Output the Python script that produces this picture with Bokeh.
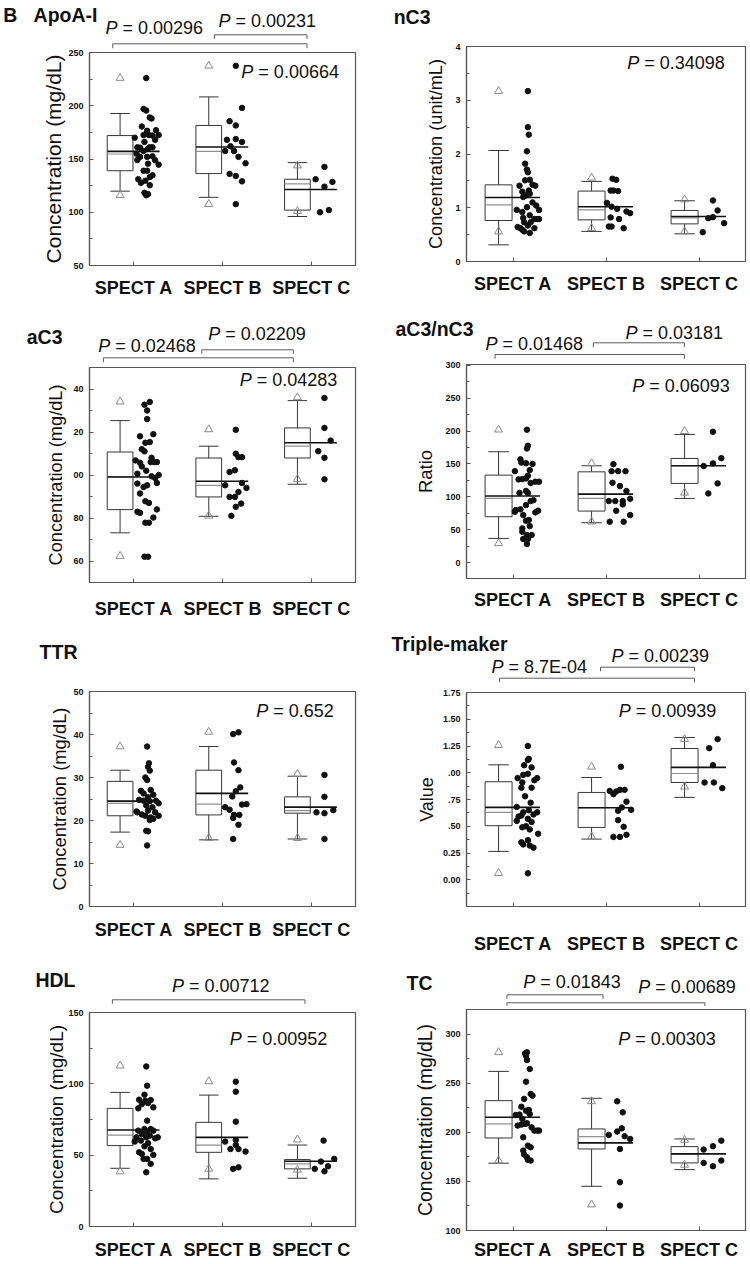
from bokeh.plotting import figure
from bokeh.layouts import column, row
from bokeh.models import Range1d, FixedTicker, Label
from bokeh.embed import file_html
from bokeh.resources import INLINE

FONT = "Liberation Sans"
GROUPS = ["SPECT A", "SPECT B", "SPECT C"]
CATS = [1, 2, 3]

# ---------------- ApoA-I ----------------
apoa_A = [226, 197, 195.5, 189, 188, 180.5, 177, 176.5, 172.5, 172.5, 172.5, 172, 170, 168, 166, 161, 160.6, 161, 161, 159.7,
          157.5, 155, 152, 152, 152.5, 149, 148.8, 145.6, 144.7, 139, 139, 134.7, 133, 131, 129.6, 127.6, 125.4, 118.2, 117, 116]
apoa_A_jit = [0.14, 0.11, 0.14, 0.18, 0.20, 0.09, 0.25, 0.15, 0.28, 0.17, 0.11, 0.21, 0.01, 0.24, 0.12, 0.04, 0.07, 0.18, 0.21, 0.16,
              0.11, 0.03, 0.07, 0.15, 0.21, 0.04, 0.24, 0.16, 0.28, 0.11, 0.15, 0.21, 0.18, 0.05, 0.13, 0.08, 0.18, 0.12, 0.16, 0.14]
apoa_B = [237.5, 198, 185.5, 181.5, 168, 168.7, 166, 162, 157.5, 157.5, 152, 146, 136, 134, 129, 107.6]
apoa_B_jit = [0.15, 0.22, 0.08, 0.15, 0.05, 0.15, 0.22, 0.09, 0.03, 0.13, 0.18, 0.26, 0.08, 0.15, 0.22, 0.15]
apoa_C = [131, 142.6, 124, 128.5, 100, 102]
apoa_C_jit = [0.05, 0.15, 0.15, 0.24, 0.10, 0.20]
apoa_stats = dict(q1=[139, 136.3, 102], q3=[172, 181.5, 131], med=[154.7, 157.2, 126.6], mean=[157.2, 161.2, 121.3],
                  wlo=[119.8, 114, 96], whi=[192.7, 208.3, 146.6], tlo=[116, 107.6, 101], thi=[226, 237.5, 143.8])

# ---------------- nC3 ----------------
nc3_A = [3.17, 2.50, 2.36, 2.05, 1.82, 1.71, 1.66, 1.52, 1.51, 1.41, 1.43, 1.41, 1.32, 1.30, 1.26, 1.23, 1.20, 1.10, 1.04, 1.01,
         0.96, 0.96, 0.92, 0.86, 0.81, 0.79, 0.79, 0.79, 0.73, 0.73, 0.67, 0.64, 0.62, 0.59, 0.62, 0.56, 0.53]
nc3_A_jit = [0.16, 0.16, 0.17, 0.15, 0.13, 0.15, 0.16, 0.18, 0.13, 0.07, 0.21, 0.24, 0.17, 0.10, 0.18, 0.14, 0.11, 0.21, 0.25, 0.15,
             0.04, 0.28, 0.10, 0.18, 0.11, 0.23, 0.26, 0.28, 0.12, 0.19, 0.16, 0.05, 0.08, 0.10, 0.23, 0.12, 0.18]
nc3_B = [1.54, 1.52, 1.32, 1.32, 1.31, 1.09, 1.02, 0.98, 0.93, 0.90, 0.82, 0.79, 0.65, 0.65, 0.62]
nc3_B_jit = [0.07, 0.11, 0.05, 0.08, 0.13, 0.01, 0.06, 0.12, 0.22, 0.26, 0.05, 0.14, 0.03, 0.06, 0.19]
nc3_C = [1.135, 0.95, 0.806, 0.825, 0.713, 0.546]
nc3_C_jit = [0.15, 0.20, 0.10, 0.15, 0.27, 0.04]
nc3_stats = dict(q1=[0.763, 0.775, 0.70], q3=[1.426, 1.31, 0.95], med=[1.054, 0.96, 0.81], mean=[1.19, 1.02, 0.837],
                 wlo=[0.31, 0.56, 0.515], whi=[2.065, 1.49, 1.13], tlo=[0.558, 0.62, 0.558], thi=[3.17, 1.557, 1.153])

# ---------------- aC3 ----------------
ac3_A = [134, 132.7, 130, 126, 118, 119, 115, 115.3, 112, 111, 108, 106.8, 105.7, 106, 106, 106, 104, 102, 100.6, 100,
         99.4, 98.6, 96.3, 96, 95.2, 94.4, 91.4, 87.8, 87, 84, 82.9, 82.4, 80.2, 77.8, 77.8, 62, 62]
ac3_A_jit = [0.18, 0.12, 0.15, 0.15, 0.07, 0.22, 0.13, 0.18, 0.09, 0.12, 0.20, 0.02, 0.07, 0.19, 0.23, 0.26, 0.09, 0.14, 0.04, 0.28,
             0.20, 0.24, 0.26, 0.04, 0.15, 0.11, 0.07, 0.13, 0.17, 0.26, 0.04, 0.07, 0.22, 0.13, 0.17, 0.12, 0.16]
ac3_B = [121, 109.9, 108.3, 108.3, 102.2, 101.4, 96.3, 95.2, 94, 92.1, 89.8, 89.8, 86.7, 85.2, 81]
ac3_B_jit = [0.15, 0.15, 0.18, 0.22, 0.14, 0.08, 0.22, 0.03, 0.27, 0.18, 0.08, 0.14, 0.21, 0.15, 0.10]
ac3_C = [135.8, 121.9, 116, 111.1, 108, 98]
ac3_C_jit = [0.15, 0.15, 0.22, 0.08, 0.15, 0.15]
ac3_stats = dict(q1=[83.9, 89.8, 107.9], q3=[110.7, 107.9, 121.9], med=[99.1, 95.2, 113.4], mean=[99.1, 97.1, 115],
                 wlo=[73.1, 80.8, 95.7], whi=[125.3, 113.4, 134.6], tlo=[62.3, 81, 98], thi=[134.1, 121.2, 136.1])

# ---------------- aC3/nC3 ----------------
ratio_A = [202, 177.6, 173.5, 157, 152, 151, 150, 139, 140.6, 126.5, 127, 132, 128, 123, 123, 121, 109, 106, 106, 95,
           93.6, 87.5, 80, 81, 79, 76.4, 77.4, 72.3, 63.7, 64.8, 52.1, 55.6, 47, 42, 42, 36, 36, 28.3]
ratio_A_jit = [0.15, 0.16, 0.15, 0.08, 0.09, 0.14, 0.21, 0.02, 0.18, 0.06, 0.10, 0.16, 0.14, 0.24, 0.28, 0.19, 0.14, 0.07, 0.16, 0.22,
               0.19, 0.14, 0.03, 0.08, 0.27, 0.24, 0.02, 0.11, 0.14, 0.17, 0.10, 0.18, 0.10, 0.15, 0.20, 0.11, 0.16, 0.15]
ratio_B = [149.7, 139, 139, 139, 121.4, 116.3, 108.8, 93.6, 93.6, 93.6, 97.1, 88.5, 78.9, 72.3, 62.2, 62.2]
ratio_B_jit = [0.08, 0.06, 0.13, 0.21, 0.07, 0.15, 0.22, 0.03, 0.10, 0.18, 0.26, 0.18, 0.11, 0.26, 0.04, 0.19]
ratio_C = [198.8, 158.8, 150.8, 146.7, 120.4, 105.2]
ratio_C_jit = [0.15, 0.24, 0.15, 0.05, 0.20, 0.10]
ratio_stats = dict(q1=[69.8, 78.4, 120.4], q3=[133, 138, 158.3], med=[97.6, 97.6, 147.2], mean=[101.2, 104.2, 147.2],
                   wlo=[36.9, 60.7, 97.6], whi=[168.5, 147.2, 194.8], tlo=[29.3, 62.2, 106.2], thi=[202, 150.8, 199.8])

# ---------------- TTR ----------------
ttr_A = [37.2, 33.3, 32.5, 31.6, 30, 29.4, 26.9, 27.1, 26.3, 26, 25.4, 24.8, 24.6, 24.5, 24.6, 24.0, 23.5, 23.1, 22.1, 21.9,
         22.3, 21.9, 21.4, 21.1, 21.1, 20.7, 20.4, 20.1, 17.6, 17.5, 14.2]
ttr_A_jit = [0.15, 0.17, 0.16, 0.18, 0.13, 0.15, 0.08, 0.19, 0.11, 0.22, 0.16, 0.06, 0.11, 0.18, 0.25, 0.28, 0.14, 0.21, 0.03, 0.04,
             0.16, 0.24, 0.09, 0.13, 0.28, 0.19, 0.22, 0.18, 0.14, 0.16, 0.15]
ttr_B = [40.1, 40.5, 33.5, 31.7, 27.7, 26.8, 25.6, 23.1, 22.5, 23.7, 23.8, 21.3, 21.3, 20.6, 19, 15.7]
ttr_B_jit = [0.12, 0.18, 0.13, 0.18, 0.20, 0.15, 0.11, 0.03, 0.08, 0.22, 0.27, 0.13, 0.19, 0.12, 0.18, 0.12]
ttr_C = [30.6, 25.5, 21.9, 21.7, 22.4, 15.7]
ttr_C_jit = [0.15, 0.15, 0.06, 0.15, 0.25, 0.15]
ttr_stats = dict(q1=[21.1, 21.3, 21.7], q3=[29.1, 31.7, 25.5], med=[24.0, 23.8, 22.3], mean=[24.5, 26.3, 23.1],
                 wlo=[17.3, 15.5, 15.7], whi=[31.7, 37.2, 30.3], tlo=[14.3, 15.9, 15.9], thi=[37.2, 40.6, 30.8])

# ---------------- Triple-maker ----------------
tm_A = [1.25, 1.13, 1.12, 1.07, 1.05, 0.98, 0.95, 0.99, 0.95, 0.91, 0.93, 0.86, 0.86, 0.78, 0.72, 0.68, 0.63, 0.65, 0.63, 0.61,
        0.59, 0.60, 0.57, 0.55, 0.54, 0.50, 0.49, 0.47, 0.43, 0.35, 0.33, 0.37, 0.32, 0.30, 0.06]
tm_A_jit = [0.16, 0.17, 0.16, 0.12, 0.20, 0.11, 0.05, 0.16, 0.26, 0.10, 0.23, 0.20, 0.09, 0.13, 0.19, 0.04, 0.11, 0.17, 0.26, 0.22,
            0.06, 0.09, 0.16, 0.04, 0.20, 0.14, 0.10, 0.18, 0.27, 0.09, 0.11, 0.16, 0.18, 0.22, 0.16]
tm_B = [1.056, 0.83, 0.825, 0.84, 0.84, 0.80, 0.73, 0.676, 0.654, 0.645, 0.557, 0.495, 0.40, 0.40, 0.42]
tm_B_jit = [0.16, 0.04, 0.11, 0.15, 0.20, 0.08, 0.22, 0.17, 0.27, 0.13, 0.13, 0.19, 0.08, 0.15, 0.22]
tm_C = [1.314, 1.23, 1.071, 0.909, 0.909, 0.856]
tm_C_jit = [0.20, 0.11, 0.15, 0.06, 0.16, 0.25]
tm_stats = dict(q1=[0.505, 0.489, 0.909], q3=[0.916, 0.816, 1.227], med=[0.629, 0.673, 0.993], mean=[0.676, 0.673, 1.05],
                wlo=[0.265, 0.38, 0.77], whi=[1.074, 0.956, 1.33], tlo=[0.062, 0.402, 0.869], thi=[1.258, 1.056, 1.314])

# ---------------- HDL ----------------
hdl_A = [112.2, 98.7, 92.4, 88.9, 88.2, 88.6, 86.5, 85.8, 83.5, 82.8, 74.2, 67.2, 68.3, 68.3, 67.2, 66.5, 64.8, 63.7, 62.5, 62.5,
         61.8, 62.5, 60.2, 59.5, 58.3, 56.2, 54.3, 52, 50.9, 50.2, 47.4, 47.4, 43.9, 38]
hdl_A_jit = [0.14, 0.15, 0.12, 0.06, 0.13, 0.19, 0.16, 0.09, 0.22, 0.05, 0.15, 0.05, 0.12, 0.19, 0.22, 0.15, 0.09, 0.18, 0.03, 0.14,
             0.24, 0.27, 0.08, 0.01, 0.16, 0.12, 0.19, 0.06, 0.09, 0.22, 0.11, 0.15, 0.19, 0.14]
hdl_B = [101.5, 94.5, 73.5, 59.5, 60.6, 57.1, 54.3, 54.3, 52.5, 41.5, 40.4]
hdl_B_jit = [0.15, 0.15, 0.15, 0.03, 0.15, 0.15, 0.09, 0.18, 0.26, 0.18, 0.12]
hdl_C = [60.2, 45.5, 47.4, 40.4, 42.2, 38.7]
hdl_C_jit = [0.14, 0.11, 0.26, 0.04, 0.19, 0.15]
hdl_stats = dict(q1=[56.7, 52, 40.4], q3=[82.8, 73, 46.9], med=[64.1, 57.1, 43.9], mean=[67.6, 62.5, 45.7],
                 wlo=[40.8, 33.4, 33.8], whi=[94.0, 92.1, 57.1], tlo=[38.5, 40.4, 39.7], thi=[112.7, 101.7, 60.9])

# ---------------- TC ----------------
tc_A = [280.3, 281.4, 278, 273.6, 264.4, 251.5, 239, 237.3, 234, 226, 222.7, 222, 217.6, 218, 218.6, 213.6, 208.5, 207.8, 209.2, 206.8,
        205, 201.7, 201.7, 201.7, 194.9, 186.4, 184.7, 181.4, 177.3, 174.6, 171.9, 171.2]
tc_A_jit = [0.13, 0.15, 0.14, 0.15, 0.18, 0.14, 0.19, 0.21, 0.12, 0.09, 0.17, 0.14, 0.03, 0.07, 0.18, 0.10, 0.13, 0.09, 0.15, 0.05,
            0.20, 0.23, 0.26, 0.28, 0.11, 0.16, 0.19, 0.11, 0.12, 0.15, 0.16, 0.19]
tc_B = [231.5, 220.3, 204, 200.7, 197.3, 196, 193.2, 183, 149.2, 125.4]
tc_B_jit = [0.12, 0.18, 0.17, 0.12, 0.03, 0.20, 0.26, 0.15, 0.15, 0.15]
tc_C = [182.4, 185.8, 191.5, 168.8, 165.4, 171.2]
tc_C_jit = [0.05, 0.15, 0.24, 0.05, 0.15, 0.24]
tc_stats = dict(q1=[194.2, 183, 168.8], q3=[232.2, 203.4, 185.4], med=[208.5, 195.6, 178], mean=[215.3, 189.2, 178],
                wlo=[168.5, 145, 162], whi=[262, 234.6, 193.2], tlo=[171.2, 126.4, 166.8], thi=[281.4, 231.5, 192.2])

INK = "#111111"
FRAME = "#555555"
BOXC = "#353535"
BOX_L, BOX_R, CAP, MEAN_R = 0.30, 0.01, 0.11, 0.29
NB = "\u00a0"
LABEL_SHIFT = 6.5  # baseline correction for Label text

# page columns: (x0, x1, frame left, frame right) -- plots stacked in a column share frame edges
COLS = {"L": (0, 372, 87, 355), "R": (372, 748, 466, 745)}

SPECS = [
    dict(key="apoa", col="L", y=(0, 300), fy=(52, 266), title=("B" + NB * 3 + "ApoA-I", 95, 21),
         pout=[("0.00296", 103, 34), ("0.00231", 217, 26.7)], pin=("0.00664", 240, 78.3),
         brackets=[(0.762, 2.953, 43.3, 47.7), (1.908, 2.953, 34.3, 38.3)],
         yr=(50, 250), major=[50, 100, 150, 200, 250], minor=[75, 125, 175, 225], overrides=None,
         ylabel="Concentration (mg/dL)", ylsize=21, als=0, xstand=12,
         groups=[(apoa_A, apoa_A_jit), (apoa_B, apoa_B_jit), (apoa_C, apoa_C_jit)], stats=apoa_stats),
    dict(key="nc3", col="R", y=(0, 300), fy=(46, 261), title=("nC3", 430, 23.3),
         pout=[], pin=("0.34098", 626.7, 69.3), brackets=[],
         yr=(0, 4), major=[0, 1, 2, 3, 4], minor=[0.5, 1.5, 2.5, 3.5], overrides=None,
         ylabel="Concentration (unit/mL)", ylsize=18.2, als=6, xstand=12,
         groups=[(nc3_A, nc3_A_jit), (nc3_B, nc3_B_jit), (nc3_C, nc3_C_jit)], stats=nc3_stats),
    dict(key="ac3", col="L", y=(300, 630), fy=(367, 582), title=("aC3", 60, 343.3),
         pout=[("0.02468", 95.7, 352.3), ("0.02209", 206.7, 340)], pin=("0.04283", 238.3, 386),
         brackets=[(0.657, 2.80, 357.3, 361.7), (1.767, 2.80, 349.3, 353.3)],
         yr=(50, 150), major=[60, 80, 100, 120, 140], minor=[70, 90, 110, 130],
         overrides={100: "00", 120: "20", 140: "40"},
         ylabel="Concentration (mg/dL)", ylsize=18.2, als=4, xstand=16,
         groups=[(ac3_A, ac3_A_jit), (ac3_B, ac3_B_jit), (ac3_C, ac3_C_jit)], stats=ac3_stats),
    dict(key="ratio", col="R", y=(300, 630), fy=(364, 578), title=("aC3/nC3", 473.3, 335),
         pout=[("0.01468", 485, 350), ("0.03181", 625, 339.3)], pin=("0.06093", 631.7, 391.7),
         brackets=[(0.807, 2.843, 354, 358.3), (1.864, 2.843, 342.3, 346.7)],
         yr=(-24, 301), major=[0, 50, 100, 150, 200, 250, 300], minor=[25, 75, 125, 175, 225, 275], overrides=None,
         ylabel="Ratio", ylsize=18.5, als=6, xstand=11,
         groups=[(ratio_A, ratio_A_jit), (ratio_B, ratio_B_jit), (ratio_C, ratio_C_jit)], stats=ratio_stats),
    dict(key="ttr", col="L", y=(630, 950), fy=(691, 906), title=("TTR", 75, 658.3),
         pout=[], pin=("0.652", 255, 717.3), brackets=[],
         yr=(0, 50), major=[0, 10, 20, 30, 40, 50], minor=[5, 15, 25, 35, 45], overrides=None,
         ylabel="Concentration (mg/dL)", ylsize=18.4, als=0, xstand=13,
         groups=[(ttr_A, ttr_A_jit), (ttr_B, ttr_B_jit), (ttr_C, ttr_C_jit)], stats=ttr_stats),
    dict(key="tm", col="R", y=(630, 957), fy=(692, 906), title=("Triple-maker", 506.7, 650.7),
         pout=[("8.7E-04", 491, 673.3), ("0.00239", 611, 662.3)], pin=("0.00939", 618.3, 717.3),
         brackets=[(0.855, 2.952, 677.7, 681.7), (1.941, 2.952, 666.7, 670.7)],
         yr=(-0.25, 1.75), major=[0, 0.25, 0.5, 0.75, 1.0, 1.25, 1.5, 1.75],
         minor=[-0.125, 0.125, 0.375, 0.625, 0.875, 1.125, 1.375, 1.625],
         overrides={0: "0.00", 0.25: "0.25", 0.5: ".50", 0.75: ".75", 1: ".00", 1.25: "1.25", 1.5: "1.50", 1.75: "1.75"},
         ylabel="Value", ylsize=18, als=3, xstand=27,
         groups=[(tm_A, tm_A_jit), (tm_B, tm_B_jit), (tm_C, tm_C_jit)], stats=tm_stats),
    dict(key="hdl", col="L", y=(950, 1262), fy=(1012, 1228), title=("HDL", 72.7, 986.7),
         pout=[("0.00712", 170, 991.7)], pin=("0.00952", 228.3, 1045.7),
         brackets=[(0.758, 2.930, 999.3, 1003.3)],
         yr=(0, 150), major=[0, 50, 100, 150], minor=[25, 75, 125], overrides=None,
         ylabel="Concentration (mg/dL)", ylsize=19, als=-2, xstand=13,
         groups=[(hdl_A, hdl_A_jit), (hdl_B, hdl_B_jit), (hdl_C, hdl_C_jit)], stats=hdl_stats),
    dict(key="tc", col="R", y=(957, 1262), fy=(1009, 1230), title=("TC", 431.7, 989.3),
         pout=[("0.01843", 522.7, 988.3), ("0.00689", 637.7, 993.3)], pin=("0.00303", 617.7, 1045),
         brackets=[(0.935, 1.968, 994.3, 998.3), (0.935, 3.063, 1002.3, 1006.7)],
         yr=(100, 325), major=[100, 150, 200, 250, 300], minor=[125, 175, 225, 275], overrides=None,
         ylabel="Concentration (mg/dL)", ylsize=19.3, als=6, xstand=9,
         groups=[(tc_A, tc_A_jit), (tc_B, tc_B_jit), (tc_C, tc_C_jit)], stats=tc_stats),
]


def add_label(fig, x, y, txt, size, style="normal", x_offset=0):
    fig.add_layout(Label(x=x, y=y, text=txt, x_offset=x_offset, text_font=FONT,
                         text_font_size=f"{size}px", text_font_style=style, text_align="left",
                         text_baseline="alphabetic", text_color=INK))


def add_p_label(fig, x, y, num, size=18):
    add_label(fig, x, y, "P", size, "italic")
    add_label(fig, x, y, "= " + num, size, x_offset=round(size * 0.945))


def build(spec):
    x0, x1, L, R = COLS[spec["col"]]
    y0, y1 = spec["y"]
    T, B = spec["fy"]
    W = x1 - x0
    cut = T - 3
    top_h = cut - y0
    main_h = y1 - cut

    def dx(px):
        return 0.5 + (px - L) / (R - L) * 3

    # upper strip: panel title (as the strip's left tick label), p-values and brackets
    pt = figure(width=W, height=top_h, x_range=Range1d(0.5, 3.5), y_range=Range1d(top_h, 0),
                toolbar_location=None, output_backend="svg", x_axis_location=None, y_axis_location="left",
                min_border_left=L - x0, min_border_right=x1 - R, min_border_top=0, min_border_bottom=0)
    pt.outline_line_color = None
    pt.grid.visible = False
    ttxt, tright, tbase = spec["title"]
    tick_y = round(tbase - y0 - 7, 1)
    ta = pt.yaxis[0]
    ta.ticker = FixedTicker(ticks=[tick_y], minor_ticks=[])
    ta.major_label_overrides = {tick_y: ttxt}
    ta.major_label_text_font = FONT
    ta.major_label_text_font_size = "19.5px"
    ta.major_label_text_font_style = "bold"
    ta.major_label_text_color = INK
    ta.major_label_standoff = int(round(L - tright))
    ta.major_tick_in = 0
    ta.major_tick_out = 0
    ta.axis_line_color = None
    ta.major_tick_line_color = None
    ta.minor_tick_line_color = None
    for c0, c1, ytop, yleg in spec["brackets"]:
        pt.line(x=[c0, c0, c1, c1], y=[yleg - y0, ytop - y0, ytop - y0, yleg - y0],
                line_color="#5a5a5a", line_width=1)
    for num, tx, ty in spec["pout"]:
        add_p_label(pt, dx(tx), ty - y0 - LABEL_SHIFT, num)

    # main plot
    ylo, yhi = spec["yr"]
    p = figure(width=W, height=main_h, x_range=Range1d(0.5, 3.5), y_range=Range1d(ylo, yhi),
               toolbar_location=None, output_backend="svg",
               min_border_left=L - x0, min_border_right=x1 - R, min_border_top=3, min_border_bottom=y1 - B)
    p.grid.visible = False
    p.outline_line_color = FRAME
    p.outline_line_width = 1.2

    xa = p.xaxis[0]
    xa.ticker = FixedTicker(ticks=CATS)
    xa.major_label_overrides = {c: g for c, g in zip(CATS, GROUPS)}
    xa.major_label_text_font = FONT
    xa.major_label_text_font_size = "18px"
    xa.major_label_text_font_style = "bold"
    xa.major_label_text_color = INK
    xa.major_tick_in = 4
    xa.major_tick_out = 0
    xa.minor_tick_line_color = None
    xa.axis_line_color = FRAME
    xa.axis_line_width = 1.2
    xa.major_tick_line_color = FRAME
    xa.major_label_standoff = spec["xstand"]

    ya = p.yaxis[0]
    ya.ticker = FixedTicker(ticks=spec["major"], minor_ticks=spec["minor"])
    if spec["overrides"]:
        ya.major_label_overrides = spec["overrides"]
    ya.major_label_text_font = FONT
    ya.major_label_text_font_size = "9px"
    ya.major_label_text_font_style = "bold"
    ya.major_label_text_color = INK
    ya.major_tick_in = 4
    ya.major_tick_out = 0
    ya.minor_tick_in = 3
    ya.minor_tick_out = 0
    ya.axis_line_color = FRAME
    ya.axis_line_width = 1.2
    ya.major_tick_line_color = FRAME
    ya.minor_tick_line_color = FRAME
    ya.major_label_standoff = 6
    ya.axis_label = spec["ylabel"]
    ya.axis_label_text_font = FONT
    ya.axis_label_text_font_size = f"{spec['ylsize']}px"
    ya.axis_label_text_font_style = "normal"
    ya.axis_label_text_color = INK
    ya.axis_label_standoff = spec["als"]

    st = spec["stats"]
    left = [c - BOX_L for c in CATS]
    right = [c - BOX_R for c in CATS]
    center = [(a + b) / 2 for a, b in zip(left, right)]
    p.segment(x0=center, y0=st["q3"], x1=center, y1=st["whi"], line_color=BOXC, line_width=1)
    p.segment(x0=center, y0=st["q1"], x1=center, y1=st["wlo"], line_color=BOXC, line_width=1)
    p.segment(x0=[c - CAP for c in center], x1=[c + CAP for c in center], y0=st["whi"], y1=st["whi"],
              line_color=BOXC, line_width=1)
    p.segment(x0=[c - CAP for c in center], x1=[c + CAP for c in center], y0=st["wlo"], y1=st["wlo"],
              line_color=BOXC, line_width=1)
    p.quad(left=left, right=right, bottom=st["q1"], top=st["q3"], fill_color="white",
           line_color=BOXC, line_width=1)
    p.segment(x0=left, x1=right, y0=st["med"], y1=st["med"], line_color="#8f8f8f", line_width=1.2)
    p.segment(x0=left, x1=[c + MEAN_R for c in CATS], y0=st["mean"], y1=st["mean"],
              line_color=INK, line_width=1.6)
    p.scatter(x=center + center, y=st["thi"] + st["tlo"], marker="triangle", size=8,
              fill_color=None, line_color="#8a8a8a", line_width=1)
    for cat, (vals, jit) in zip(CATS, spec["groups"]):
        p.scatter(x=[cat + j for j in jit], y=vals, marker="circle", size=5.5,
                  fill_color=INK, line_color=INK)

    num, px, py = spec["pin"]
    pdy = yhi - (py - LABEL_SHIFT - T) / (B - T) * (yhi - ylo)
    add_p_label(p, dx(px), pdy, num)
    return [pt, p]


figs = {s["key"]: build(s) for s in SPECS}
left_col = column(*(figs["apoa"] + figs["ac3"] + figs["ttr"] + figs["hdl"]))
right_col = column(*(figs["nc3"] + figs["ratio"] + figs["tm"] + figs["tc"]))
layout = row(left_col, right_col)

open("out.html", "w").write(file_html(layout, INLINE))
